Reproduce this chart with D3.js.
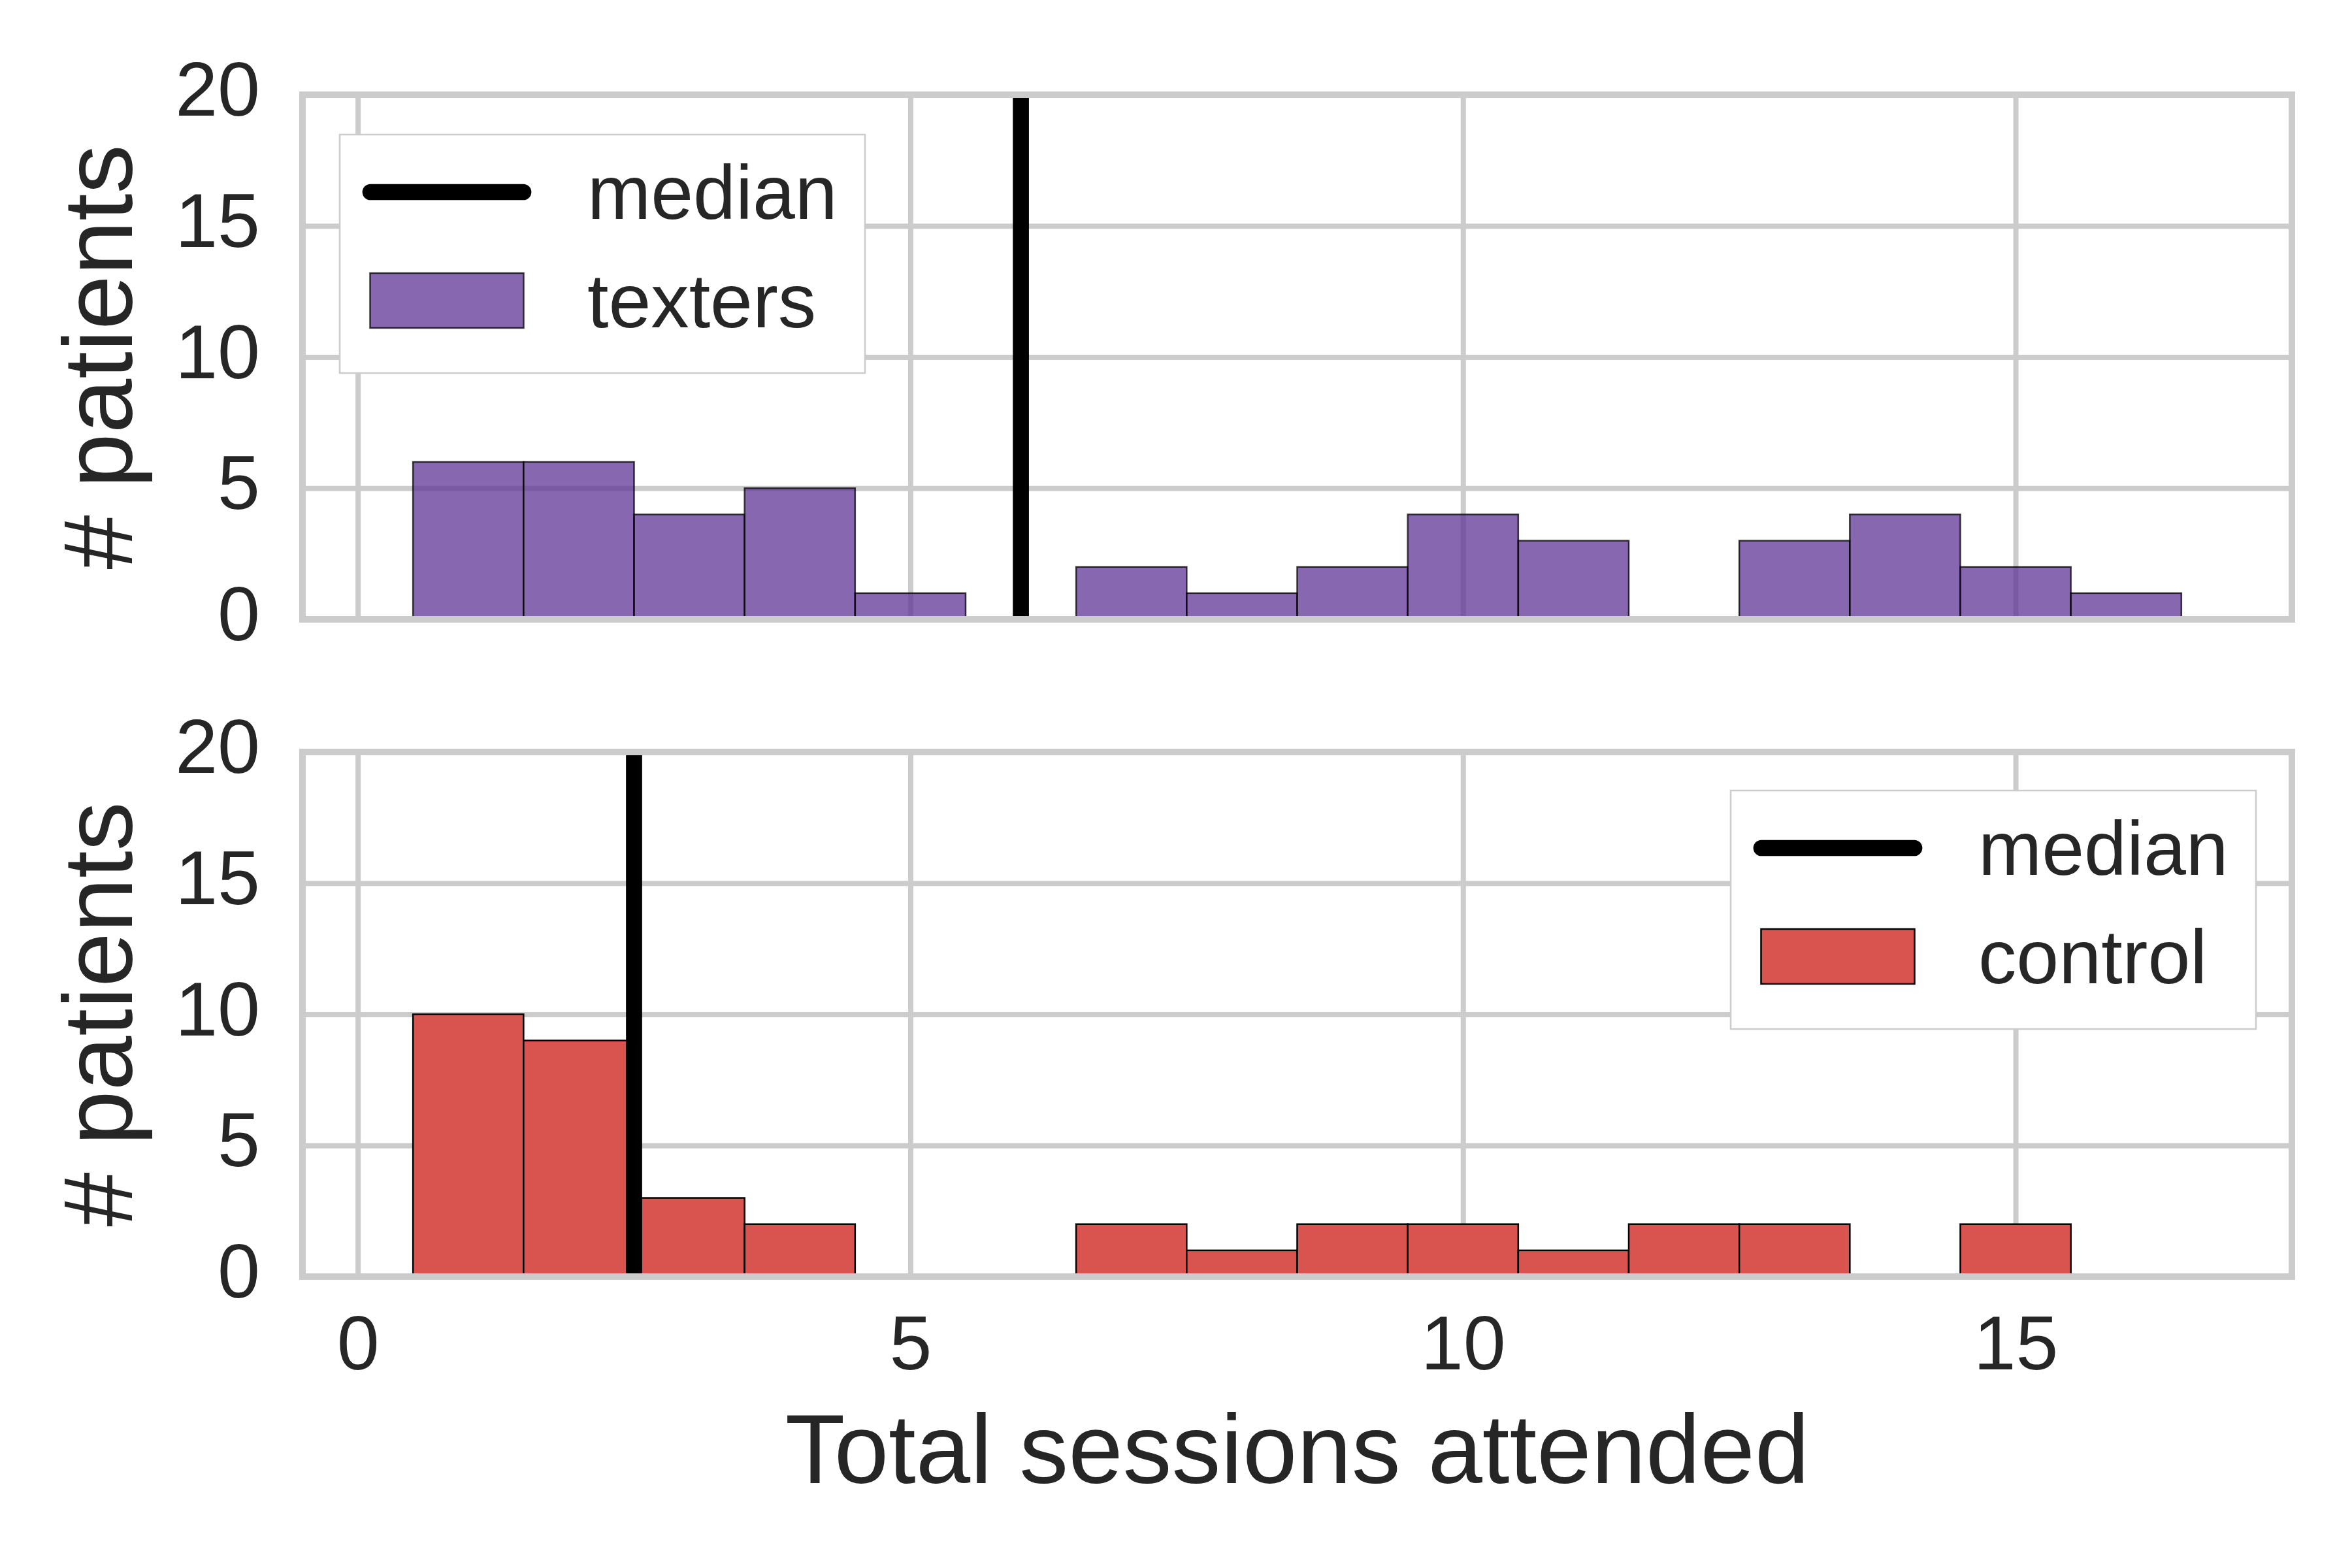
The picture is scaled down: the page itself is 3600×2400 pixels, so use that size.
<!DOCTYPE html>
<html>
<head>
<meta charset="utf-8">
<script src="https://cdn.jsdelivr.net/npm/d3@7"></script>
<style>
    body { margin: 0; background: white; }
    text { font-family: "Liberation Sans", Arial, sans-serif; fill: #262626; }
</style>
</head>
<body>
<div id="chart"></div>
<script>
// sessions attended (bin centres) and counts per bin
var sessions = [1, 2, 3, 4, 5, 6, 7, 8, 9, 10, 11, 12, 13, 14, 15, 16];
var texters = [6, 6, 4, 5, 1, 0, 2, 1, 2, 4, 3, 0, 3, 4, 2, 1];
var control = [10, 9, 3, 2, 0, 0, 2, 1, 2, 2, 1, 2, 2, 0, 2, 0];
var medianTexters = 6;
var medianControl = 2.5;

var xTicks = [0, 5, 10, 15];
var yTicks = [0, 5, 10, 15, 20];
var xDomain = [-0.5, 17.5];
var yDomain = [0, 20];

var W = 3600;
var H = 2400;
var left = 463, right = 3508;
var panelH = 803;
var tops = [145, 1151];

var TICK_FONT = 116.7;
var LABEL_FONT = 150;

var svg = d3.select("#chart")
    .append("svg")
    .attr("width", W)
    .attr("height", H);

svg.append("rect")
    .attr("width", W)
    .attr("height", H)
    .attr("fill", "white");

var x = d3.scaleLinear().domain(xDomain).range([left, right]);

function draw_panel(top, counts, median, opts) {
    var y = d3.scaleLinear().domain(yDomain).range([top + panelH, top]);
    var g = svg.append("g");

    // grid
    g.append("g")
        .attr("transform", "translate(0," + (top + panelH) + ")")
        .call(d3.axisBottom(x).tickValues(xTicks).tickSize(-panelH).tickFormat(""))
        .call(function (s) {
            s.select(".domain").remove();
            s.selectAll("line").attr("stroke", "#cccccc").attr("stroke-width", 8);
        });
    g.append("g")
        .attr("transform", "translate(" + left + ",0)")
        .call(d3.axisLeft(y).tickValues(yTicks).tickSize(-(right - left)).tickPadding(65))
        .call(function (s) {
            s.select(".domain").remove();
            s.selectAll("line").attr("stroke", "#cccccc").attr("stroke-width", 8);
            s.selectAll("text")
                .attr("font-size", TICK_FONT)
                .attr("dy", "0.27em")
                .style("fill", "#262626");
        });

    // bars
    var bins = sessions.map(function (s, i) { return { x: s, n: counts[i] }; })
        .filter(function (d) { return d.n > 0; });
    g.selectAll(".bar")
        .data(bins)
        .enter()
        .append("rect")
        .attr("class", "bar")
        .attr("x", function (d) { return x(d.x - 0.5); })
        .attr("y", function (d) { return y(d.n); })
        .attr("width", function (d) { return x(d.x + 0.5) - x(d.x - 0.5); })
        .attr("height", function (d) { return y(0) - y(d.n); })
        .attr("fill", opts.color)
        .attr("fill-opacity", opts.alpha)
        .attr("stroke", "black")
        .attr("stroke-opacity", opts.alpha)
        .attr("stroke-width", 2.5);

    // median
    g.append("line")
        .attr("x1", x(median))
        .attr("x2", x(median))
        .attr("y1", y(0))
        .attr("y2", y(20))
        .attr("stroke", "black")
        .attr("stroke-width", 24.7);

    // frame
    g.append("rect")
        .attr("x", left)
        .attr("y", top)
        .attr("width", right - left)
        .attr("height", panelH)
        .attr("fill", "none")
        .attr("stroke", "#cccccc")
        .attr("stroke-width", 10);

    // y label
    g.append("text")
        .attr("transform", "translate(202," + (top + panelH / 2) + ") rotate(-90)")
        .attr("text-anchor", "middle")
        .attr("font-size", LABEL_FONT)
        .text("# patients");

    // legend
    var lg = g.append("g")
        .attr("transform", "translate(" + opts.legX + "," + opts.legY + ")");
    lg.append("rect")
        .attr("width", 804)
        .attr("height", 365)
        .attr("fill", "white")
        .attr("stroke", "#cccccc")
        .attr("stroke-width", 2.5);
    lg.append("line")
        .attr("x1", 47).attr("x2", 281)
        .attr("y1", 88).attr("y2", 88)
        .attr("stroke", "black")
        .attr("stroke-width", 24.7)
        .attr("stroke-linecap", "round");
    lg.append("rect")
        .attr("x", 46.5).attr("y", 212)
        .attr("width", 235).attr("height", 84)
        .attr("fill", opts.color)
        .attr("fill-opacity", opts.alpha)
        .attr("stroke", "black")
        .attr("stroke-opacity", opts.alpha)
        .attr("stroke-width", 2.5);
    lg.append("text")
        .attr("x", 379).attr("y", 129)
        .attr("font-size", TICK_FONT)
        .text("median");
    lg.append("text")
        .attr("x", 379).attr("y", 295)
        .attr("font-size", TICK_FONT)
        .text(opts.name);

    return g;
}

draw_panel(tops[0], texters, medianTexters,
    { color: "#5f3596", alpha: 0.75, name: "texters", legX: 520, legY: 206 });
draw_panel(tops[1], control, medianControl,
    { color: "#d9534f", alpha: 1, name: "control", legX: 2649, legY: 1210 });

// x tick labels on the bottom panel only
svg.append("g")
    .attr("transform", "translate(0," + (tops[1] + panelH) + ")")
    .call(d3.axisBottom(x).tickValues(xTicks).tickSize(0).tickPadding(59))
    .call(function (s) {
        s.select(".domain").remove();
        s.selectAll("text")
            .attr("font-size", TICK_FONT)
            .style("fill", "#262626");
    });

svg.append("text")
    .attr("x", (left + right) / 2)
    .attr("y", 2270)
    .attr("text-anchor", "middle")
    .attr("font-size", LABEL_FONT)
    .text("Total sessions attended");
</script>
</body>
</html>
